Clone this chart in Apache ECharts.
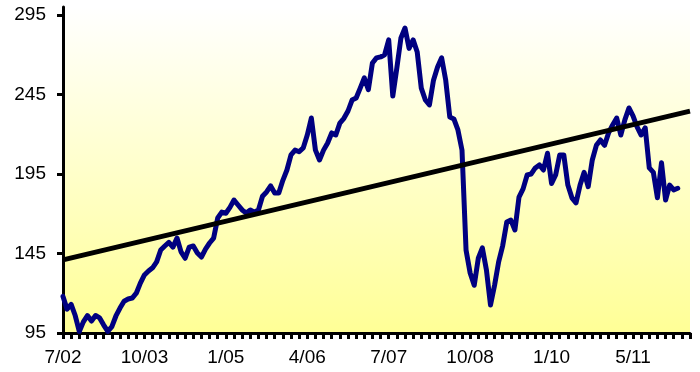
<!DOCTYPE html>
<html>
<head>
<meta charset="utf-8">
<script src="https://cdn.jsdelivr.net/npm/echarts@6/dist/echarts.min.js"></script>
<style>
  html, body { margin: 0; padding: 0; background: #ffffff; }
  #chart { width: 700px; height: 372px; }
</style>
</head>
<body>
<div id="chart"></div>
<script>
// Price index, two samples per axis tick, July 2002 through late 2011
const values = [
  118, 110, 113, 106, 96, 102, 106, 102.5, 106, 104.5,
  100, 96, 99, 105.7, 110.7, 115, 116.4, 117, 120, 126.4,
  131.5, 134, 136, 139.7, 147.2, 149.7, 152, 149, 154.7, 146,
  142, 149, 149.7, 145.3, 142.8, 147.8, 151.6, 154.7, 167.3, 171,
  170.3, 174, 178.6, 175.5, 172.4, 170.5, 172.4, 171, 172.4, 181,
  183.7, 187.5, 183, 183, 191, 197.5, 207, 210, 209, 211.4,
  219.5, 230.2, 210, 203.8, 210, 214.5, 220.8, 219.5, 227, 230,
  234.6, 241.5, 242.8, 249, 255.4, 248, 264.8, 268, 268.6, 270,
  279.3, 244, 261.7, 280.5, 286.8, 274, 279.3, 271.7, 249, 241.5,
  238.4, 254, 262.3, 268, 254, 230.8, 229.6, 222.7, 210, 147,
  132.7, 125, 142, 148.5, 134.6, 112.6, 125, 139.7, 150, 164.8,
  166, 159.8, 180.5, 185.6, 194.4, 195, 198.8, 200.7, 197.5, 208,
  189, 194.4, 207, 207, 188, 180, 176.8, 188, 196, 187,
  203.8, 213, 216.4, 213, 220.8, 225.8, 230.2, 219.5, 229, 236.5,
  231.5, 224.6, 219.5, 224, 198.8, 196, 180, 202, 178.6, 188,
  185, 186
];

// Straight trend line, from the first to the last slot of the axis
const trendStart = 141;
const trendEnd = 234.5;

// Date labels, one every 20 slots; a tick every 2 slots
const dateLabels = ['7/02', '10/03', '1/05', '4/06', '7/07', '10/08', '1/10', '5/11'];
const lastSlot = 154;
const labelEvery = 20;
const tickEvery = 2;

// Value axis
const yMin = 95;
const yMax = 300;
const yTicks = [95, 145, 195, 245, 295];

const points = values.map((v, i) => [i, v]);

const chart = echarts.init(document.getElementById('chart'), null, { renderer: 'canvas' });

const labelFont = {
  color: '#000000',
  fontFamily: 'Liberation Sans, Arial, sans-serif',
  fontSize: 19
};

chart.setOption({
  animation: false,
  backgroundColor: '#ffffff',
  grid: {
    left: 63, right: 10, top: 7, bottom: 39,
    show: true,
    borderWidth: 0,
    backgroundColor: new echarts.graphic.LinearGradient(0, 0, 0, 1, [
      { offset: 0, color: '#ffffff' },
      { offset: 1, color: '#ffff96' }
    ])
  },
  xAxis: [
    {
      // date axis: line and labels
      type: 'value',
      min: 0,
      max: lastSlot,
      interval: tickEvery,
      axisLine: { show: true, onZero: false, lineStyle: { color: '#000000', width: 3 } },
      axisTick: { show: false },
      axisLabel: Object.assign({
        show: true,
        margin: 15,
        formatter: (v) => (v % labelEvery === 0 ? (dateLabels[v / labelEvery] || '') : '')
      }, labelFont),
      splitLine: { show: false }
    },
    {
      // short tick marks under the date axis
      type: 'value',
      position: 'bottom',
      min: 0,
      max: lastSlot,
      interval: tickEvery,
      axisLine: { show: false, onZero: false },
      axisTick: { show: true, inside: false, length: 6, lineStyle: { color: '#000000', width: 3 } },
      axisLabel: { show: false },
      splitLine: { show: false }
    }
  ],
  yAxis: {
    type: 'value',
    min: yMin,
    max: yMax,
    axisLine: { show: true, lineStyle: { color: '#000000', width: 3 } },
    axisTick: {
      show: true,
      customValues: yTicks,
      length: 6,
      lineStyle: { color: '#000000', width: 3 }
    },
    axisLabel: Object.assign({
      customValues: yTicks,
      margin: 17
    }, labelFont),
    splitLine: { show: false }
  },
  series: [
    {
      name: 'Index',
      type: 'line',
      data: points,
      symbol: 'none',
      lineStyle: { color: '#000080', width: 5, join: 'round', cap: 'round' },
      z: 3
    },
    {
      name: 'Trend',
      type: 'line',
      data: [[0, trendStart], [lastSlot, trendEnd]],
      symbol: 'none',
      lineStyle: { color: '#000000', width: 5 },
      z: 4
    }
  ]
});
</script>
</body>
</html>
